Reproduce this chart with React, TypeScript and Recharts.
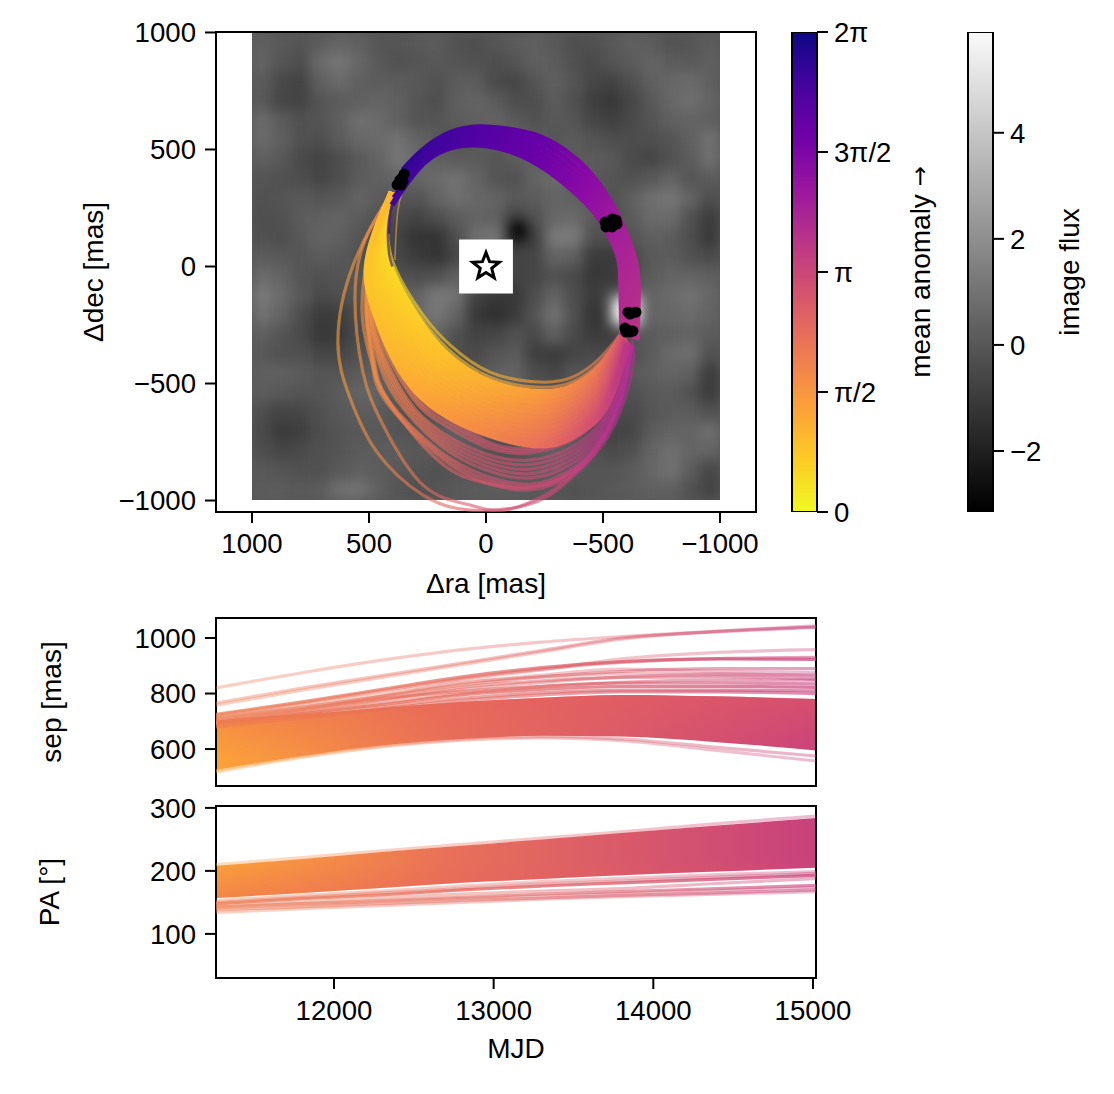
import React from 'react';
import {
  Area,
  Bar,
  ComposedChart,
  Line,
  ReferenceArea,
  Scatter,
  ScatterChart,
  XAxis,
  YAxis,
} from 'recharts';

const FONT = '"Liberation Sans", Arial, sans-serif';
const PI = Math.PI;

// orbit panel, [ra, dec] in mas
const denseOrbits: number[][][] = [
  [[402, 318], [419, 177], [393, 6], [269, -207], [154, -335], [-17, -451], [-231, -494], [-372, -472], [-487, -391], [-581, -280]],
  [[402, 318], [422, 177], [402, 5], [285, -208], [165, -351], [-17, -473], [-233, -516], [-374, -491], [-489, -407], [-583, -284]],
  [[402, 318], [426, 177], [412, 4], [301, -209], [177, -367], [-17, -494], [-236, -537], [-377, -510], [-492, -423], [-585, -289]],
  [[402, 318], [429, 177], [421, 3], [316, -210], [188, -383], [-17, -516], [-238, -559], [-379, -528], [-494, -439], [-587, -293]],
  [[402, 318], [433, 177], [430, 2], [332, -211], [199, -399], [-17, -537], [-241, -580], [-382, -547], [-497, -455], [-589, -298]],
  [[402, 318], [436, 177], [439, 1], [348, -212], [210, -415], [-17, -559], [-243, -602], [-384, -566], [-499, -471], [-591, -302]],
  [[402, 318], [440, 177], [449, 0], [364, -213], [222, -431], [-17, -580], [-245, -623], [-386, -585], [-501, -487], [-593, -306]],
  [[402, 318], [443, 177], [458, -1], [379, -214], [233, -448], [-17, -602], [-248, -645], [-389, -604], [-504, -504], [-596, -311]],
  [[402, 318], [447, 177], [467, -2], [395, -215], [244, -464], [-17, -623], [-250, -666], [-391, -622], [-506, -520], [-598, -315]],
  [[402, 318], [450, 177], [477, -3], [411, -216], [256, -480], [-17, -645], [-253, -688], [-394, -641], [-509, -536], [-600, -320]],
  [[402, 318], [453, 177], [486, -4], [427, -217], [267, -496], [-17, -666], [-255, -709], [-396, -660], [-511, -552], [-602, -324]],
  [[402, 318], [457, 177], [495, -5], [442, -218], [278, -512], [-17, -688], [-257, -731], [-398, -679], [-513, -568], [-604, -328]],
  [[402, 318], [459, 177], [502, -5], [454, -219], [287, -524], [-17, -704], [-259, -747], [-400, -693], [-515, -580], [-605, -332]],
  [[402, 318], [462, 177], [509, -6], [466, -220], [295, -536], [-17, -720], [-261, -763], [-402, -707], [-517, -592], [-607, -335]],
];
const denseTones = [0, 0.08, 0.16, 0.24, 0.32, 0.4, 0.48, 0.56, 0.64, 0.72, 0.8, 0.88, 0.94, 1];

const sparseOrbits: number[][][] = [
  [[402, 318], [568, 6], [633, -323], [581, -562], [466, -793], [269, -977], [68, -1041], [-175, -1019], [-329, -934], [-474, -793], [-573, -622], [-628, -421], [-624, -314]],
  [[402, 318], [517, 113], [560, -135], [526, -451], [440, -677], [269, -934], [68, -1019], [-81, -1041], [-286, -955], [-444, -806], [-560, -613], [-615, -400]],
  [[402, 318], [487, 113], [530, -186], [492, -400], [420, -571], [197, -835], [0, -925], [-158, -947], [-320, -905], [-470, -780], [-570, -600], [-618, -380]],
  [[402, 318], [480, 113], [515, -186], [487, -400], [432, -571], [197, -814], [0, -925], [-188, -955], [-359, -895], [-487, -763], [-581, -549], [-624, -340]],
  [[402, 318], [478, 113], [512, -186], [482, -400], [424, -571], [197, -802], [0, -910], [-188, -942], [-359, -882], [-487, -754], [-583, -545], [-623, -338]],
  [[402, 318], [476, 113], [510, -186], [478, -400], [417, -571], [197, -790], [0, -895], [-188, -930], [-359, -870], [-487, -745], [-585, -540], [-622, -335]],
  [[402, 318], [473, 113], [504, -186], [462, -400], [380, -571], [197, -763], [0, -870], [-188, -904], [-359, -848], [-487, -729], [-581, -528], [-620, -335]],
  [[402, 318], [474, 113], [500, -186], [452, -400], [367, -571], [197, -748], [0, -852], [-188, -885], [-359, -829], [-487, -714], [-581, -517], [-620, -335]],
  [[402, 318], [470, 113], [496, -186], [444, -400], [355, -571], [197, -733], [0, -835], [-188, -866], [-359, -810], [-487, -699], [-581, -506], [-620, -335]],
  [[402, 318], [469, 113], [491, -186], [436, -400], [344, -571], [197, -718], [0, -818], [-188, -846], [-359, -793], [-487, -684], [-581, -500], [-620, -335]],
  [[402, 318], [468, 113], [487, -186], [427, -400], [333, -571], [197, -703], [0, -801], [-188, -827], [-359, -776], [-487, -669], [-581, -494], [-620, -335]],
  [[402, 318], [466, 113], [478, -186], [410, -400], [308, -571], [197, -665], [0, -771], [-188, -797], [-359, -746], [-487, -643], [-573, -476], [-615, -330]],
  [[402, 318], [465, 113], [474, -186], [400, -400], [297, -571], [197, -648], [0, -758], [-188, -786], [-359, -735], [-487, -632], [-573, -470], [-613, -328]],
  [[402, 318], [464, 113], [470, -186], [389, -400], [286, -571], [197, -630], [0, -746], [-188, -776], [-359, -724], [-487, -622], [-573, -464], [-612, -325]],
];

const arcOrbits: number[][][] = [
  [[-645, -314], [-650, -79], [-628, 58], [-573, 199], [-500, 327], [-402, 442], [-261, 541], [-115, 583], [26, 596], [154, 571], [269, 498], [355, 412]],
  [[-632, -310], [-635, -79], [-614, 58], [-556, 199], [-480, 321], [-374, 436], [-232, 531], [-87, 570], [49, 579], [174, 548], [283, 470], [364, 382]],
  [[-619, -306], [-621, -79], [-601, 58], [-539, 199], [-461, 315], [-346, 430], [-203, 520], [-59, 557], [72, 562], [193, 525], [297, 442], [374, 352]],
  [[-607, -301], [-606, -79], [-587, 58], [-521, 199], [-441, 309], [-317, 424], [-173, 510], [-30, 545], [95, 544], [213, 501], [310, 413], [383, 323]],
  [[-594, -297], [-592, -79], [-574, 58], [-504, 199], [-422, 303], [-289, 418], [-144, 499], [-2, 532], [118, 527], [232, 478], [324, 385], [393, 293]],
  [[-581, -293], [-577, -79], [-560, 58], [-487, 199], [-402, 297], [-261, 412], [-115, 489], [26, 519], [141, 510], [252, 455], [338, 357], [402, 263]],
];
const tailOrbits: number[][][] = [
  [[402, 263], [418, 170], [415, 60], [400, 0]],
  [[393, 293], [408, 230], [416, 140]],
];
const tanStrand = [[209, 504], [325, 380], [376, 242], [389, 28]];

const epochBlobs: number[][] = [
  [380, 349], [363, 348], [359, 378], [350, 395], [368, 370], [355, 365],
  [-513, 169], [-509, 190], [-530, 177], [-547, 186], [-539, 203], [-556, 199], [-560, 182], [-539, 169],
  [-607, -195], [-624, -199], [-641, -195], [-615, -203],
  [-594, -263], [-607, -271], [-628, -276], [-598, -280], [-615, -280],
];

// image under the orbits
const heatRa = [958, 875, 792, 708, 625, 542, 458, 375, 292, 208, 125, 42, -42, -125, -208, -292, -375, -458, -542, -625, -708, -792, -875, -958];
const heatDec = heatRa.map((v) => v);
const fluxRows: number[][] = [
  [.2, .0, -.1, .1, .3, .2, -.1, -.1, .0, .1, -.2, -.3, -.1, .1, .2, .0, -.3, -.2, .0, .2, .1, -.2, -.1, .1],
  [.3, -.1, -.3, .5, .8, .4, .0, -.2, -.1, .0, -.1, -.2, -.3, -.1, .2, .1, -.2, -.4, -.1, .1, .3, .1, .0, .2],
  [.1, -.4, -.6, .2, .5, .2, .1, .1, .0, -.2, .1, .1, -.4, -.5, -.1, .2, -.1, -.5, -.6, -.2, .2, .4, .5, .2],
  [.0, -.5, -.6, -.1, .1, .2, .3, .2, -.1, -.3, .2, .3, .1, -.3, -.3, .1, -.2, -.7, -.9, -.5, .0, .4, .6, .3],
  [.5, .1, -.2, -.1, .2, .6, .5, .2, -.1, -.1, .1, .2, .3, .0, -.2, .0, -.1, -.5, -.7, -.4, -.1, .2, .3, .2],
  [.5, .2, -.2, -.3, .1, .4, .5, .7, .3, .0, -.2, -.1, .2, .3, .1, -.1, .1, -.1, -.3, -.3, -.3, -.1, .2, .7],
  [.2, .0, -.4, -.6, -.3, .0, .3, .8, .5, .2, .1, .1, -.1, .1, .2, .1, .0, .1, .0, -.4, -.5, -.2, .1, .6],
  [-.1, -.2, -.3, -.5, -.3, .1, .2, .3, .3, .5, .7, .3, -.1, -.2, .3, .5, .2, .0, -.1, -.2, .0, .3, -.1, .1],
  [-.2, -.1, .0, -.1, .0, .3, .1, -.1, -.1, .3, .6, .4, .3, .0, .1, .3, .2, .1, -.2, .2, .6, .8, .3, -.3],
  [-.3, -.2, .1, .2, .3, .1, -.2, -.4, -.6, -.3, .1, .3, .2, -.6, -.2, .4, .5, .1, -.2, .1, .5, .5, -.2, -.8],
  [-.2, -.3, .0, .3, .2, -.1, -.3, -.6, -1.0, -1.0, -.3, .6, .8, -1.2, -.7, .9, .9, -.2, -.2, -.1, .2, .1, -.3, -.9],
  [.1, .0, -.1, .1, .0, -.2, -.3, -.5, -.8, -1.0, -.5, .3, .4, -.6, -.5, .3, .2, -.8, -.8, -.4, .0, .1, -.2, -.4],
  [.5, .3, -.1, -.2, -.1, -.1, .0, -.2, -.3, -.2, .2, .0, -.2, -.6, -.5, -.2, -.4, -.9, -.8, -.3, .1, .3, .3, .2],
  [.9, .5, .0, -.4, -.3, -.1, .2, .2, .3, .9, .7, -.6, -.9, -.9, -.3, .3, -.3, -.8, -.4, .1, .3, .5, .7, .4],
  [.7, .3, -.3, -.8, -.7, -.3, .1, .3, .5, .8, .3, -.9, -1.1, -.8, -.1, .7, -.2, -1.0, -.6, .3, .3, .4, .5, .3],
  [.2, -.1, -.4, -.9, -.8, -.4, .0, .2, .3, .3, -.2, -.6, -.5, -.2, -.4, .2, -.4, -.8, -.7, -.1, .1, .2, .3, .1],
  [.0, -.2, -.2, -.5, -.5, -.2, .1, .2, .0, -.1, -.3, -.4, -.1, .1, -.7, -.8, -.5, -.4, -.5, -.2, .1, .5, .6, -.2],
  [.2, .2, .1, -.1, -.1, .1, .2, .1, -.1, -.2, -.2, -.1, .2, .3, -.3, -.5, -.1, -.1, -.2, .0, .2, .3, .2, -.8],
  [.1, .0, -.1, -.1, .1, .3, .3, .0, -.3, -.1, .0, .1, .2, .2, .0, -.1, .1, .0, -.2, -.2, .0, .1, -.2, -.8],
  [-.3, -.6, -.5, -.2, .0, .1, .1, -.1, -.3, -.2, .1, .2, .1, -.1, -.1, .1, .2, -.1, -.4, -.4, -.1, .1, .1, -.2],
  [-.4, -.8, -.7, -.3, -.1, .0, .0, -.1, -.1, .1, .2, .1, -.2, -.3, -.1, .1, .1, -.3, -.6, -.5, .1, .3, .3, .6],
  [-.3, -.5, -.4, -.2, -.1, .1, .1, .1, .0, .0, .1, .0, -.2, -.2, .0, .2, .1, -.2, -.4, -.2, .3, .6, .3, .3],
  [.0, -.1, -.2, -.2, .0, .2, .1, .0, -.1, -.2, -.1, -.1, .0, .0, .1, .2, .0, -.1, -.1, .1, .4, .7, .1, -.5],
  [.1, .1, .0, .1, .6, .7, .2, -.1, -.2, -.1, .0, .1, .1, .1, .0, -.1, -.2, -.1, .0, .1, .2, .2, -.2, -.6],
];
const brightSpots = [{ ra: -600, dec: -190, flux: 5.9 }];
const darkSpots = [{ ra: -137, dec: 156, flux: -3.1 }];

// time panels
const mjd = [11261, 11800, 12300, 12800, 13300, 13800, 14400, 15019];
const sepLow = [525, 575, 613, 636, 648, 645, 625, 595];
const sepHigh = [704, 725, 748, 770, 785, 795, 790, 780];
const sepLines: number[][] = [
  [820, 875, 920, 958, 985, 1005, 1025, 1040],
  [766, 820, 865, 910, 955, 1000, 1022, 1038],
  [758, 812, 858, 904, 950, 996, 1024, 1044],
  [725, 770, 815, 860, 893, 915, 925, 923],
  [722, 766, 810, 854, 888, 912, 926, 930],
  [712, 760, 800, 850, 885, 925, 948, 958],
  [715, 752, 790, 836, 866, 888, 880, 875],
  [712, 750, 790, 830, 860, 880, 890, 890],
  [700, 742, 790, 840, 860, 872, 872, 862],
  [700, 738, 778, 822, 846, 858, 860, 852],
  [695, 735, 775, 815, 840, 860, 868, 866],
  [705, 745, 782, 808, 826, 838, 838, 835],
  [690, 728, 765, 800, 825, 840, 848, 848],
  [695, 728, 760, 795, 815, 826, 826, 822],
  [690, 722, 752, 783, 803, 812, 812, 810],
  [680, 712, 745, 775, 795, 806, 806, 800],
  [517, 570, 608, 632, 640, 630, 595, 557],
  [523, 575, 612, 636, 645, 637, 606, 575],
];
const sepAlpha = [0.35, 0.4, 0.35, 0.7, 0.5, 0.35, 0.35, 0.5, 0.35, 0.5, 0.45, 0.6, 0.5, 0.7, 0.6, 0.6, 0.35, 0.4];
const sepBandLines = [16, 17];
const paLow = [157, 165, 173, 181, 187, 193, 199, 205];
const paHigh = [208, 219, 230, 240, 250, 260, 272, 284];
const paLines: number[][] = [
  [210, 221, 232, 242, 252, 262, 275, 287],
  [153, 161, 168, 176, 183, 188, 194, 199],
  [150, 158, 165, 172, 179, 184, 190, 196],
  [148, 156, 162, 170, 176, 181, 187, 193],
  [145, 151, 157, 163, 168, 172, 180, 188],
  [143, 148, 153, 158, 163, 167, 172, 177],
  [141, 146, 151, 156, 160, 164, 169, 174],
  [138, 143, 148, 153, 157, 161, 165, 170],
  [134, 140, 145, 150, 155, 159, 163, 167],
];
const paAlpha = [0.35, 0.35, 0.45, 0.75, 0.4, 0.6, 0.35, 0.5, 0.35];
const paBandLines = [0];

const xyTicks = [1000, 500, 0, -500, -1000];
const sepTicks = [600, 800, 1000];
const paTicks = [100, 200, 300];
const mjdTicks = [12000, 13000, 14000, 15000];
const anomalyTicks = [0, PI / 2, PI, (3 * PI) / 2, 2 * PI];
const anomalyLabels = ['0', 'π/2', 'π', '3π/2', '2π'];
const fluxTicks = [-2, 0, 2, 4];

const plasmaColors = ['#0d0887', '#46039f', '#7201a8', '#9c179e', '#bd3786', '#d8576b', '#ed7953', '#fb9f3a', '#fdca26', '#f0f921'];
const denseInner = ['#f8ea20', '#fdd621', '#fdb72c', '#fca136', '#f2844a', '#d8576b'];
const denseOuter = ['#fcc428', '#fca636', '#f38649', '#e76e5b', '#d04e73', '#b83289'];
const denseStops = [0, 0.19, 0.45, 0.67, 0.87, 1];

const W = 1114;
const H = 1094;
const tickStyle = { fontSize: 27.6, fill: '#000', fontFamily: FONT };
const tickLine = { stroke: '#000', strokeWidth: 2 };
const labelStyle = { fontSize: 28, fill: '#000', fontFamily: FONT };
const minus = (v: number) => String(v).replace('-', '\u2212');

const toPoints = (pairs: number[][]) => pairs.map(([ra, dec]) => ({ ra, dec }));
const fluxGray = (flux: number) => {
  const g = Math.max(0, Math.min(255, Math.round((255 * (flux * 1.3 + 3.15)) / 9.05)));
  return `rgb(${g},${g},${g})`;
};
const mixHex = (a: string, b: string, t: number) => {
  const c = (s: string, i: number) => parseInt(s.slice(i, i + 2), 16);
  const m = [1, 3, 5].map((i) => Math.round(c(a, i) * (1 - t) + c(b, i) * t));
  return `rgb(${m[0]},${m[1]},${m[2]})`;
};

const heatCells = fluxRows.flatMap((row, j) =>
  row.map((flux, i) => ({ ra: heatRa[i], dec: heatDec[j], flux })),
);

const squareCell = (size: number) => (props: any) => (
  <rect x={props.cx - size / 2} y={props.cy - size / 2} width={size} height={size} fill={fluxGray(props.payload.flux)} />
);

function HeatLayer() {
  return (
    <div style={{ position: 'absolute', left: 252, top: 33, width: 468, height: 467, overflow: 'hidden', background: '#585858' }}>
      <div style={{ filter: 'blur(6.5px)' }}>
        <ScatterChart width={468} height={467} margin={{ top: 0, right: 0, bottom: 0, left: 0 }}>
          <XAxis type="number" dataKey="ra" domain={[-1000, 1000]} reversed hide />
          <YAxis type="number" dataKey="dec" domain={[-1000, 1000]} hide />
          <Scatter data={heatCells} shape={squareCell(20)} isAnimationActive={false} />
          <Scatter data={brightSpots} shape={squareCell(28)} isAnimationActive={false} />
          <Scatter data={darkSpots} shape={squareCell(17)} isAnimationActive={false} />
        </ScatterChart>
      </div>
    </div>
  );
}

function StarMark(props: any) {
  const { cx, cy } = props;
  const pts = Array.from({ length: 10 }, (_, i) => {
    const r = i % 2 === 0 ? 14 : 6;
    const a = -PI / 2 + (i * PI) / 5;
    return `${cx + r * Math.cos(a)},${cy + r * Math.sin(a)}`;
  }).join(' ');
  return <polygon points={pts} fill="#fff" stroke="#000" strokeWidth={3} strokeLinejoin="miter" />;
}

function EpochDot(props: any) {
  return <circle cx={props.cx} cy={props.cy} r={5.5} fill="#000" />;
}

function OrbitPanel() {
  return (
    <div style={{ position: 'absolute', left: 0, top: 0 }}>
      <ComposedChart width={W} height={H} margin={{ top: 32, right: 358, bottom: 492, left: 0 }}>
        <defs>
          {denseTones.map((tone, k) => (
            <linearGradient key={k} id={`dense${k}`} gradientUnits="userSpaceOnUse" x1={370} y1={0} x2={630} y2={0}>
              {denseStops.map((s, i) => (
                <stop key={i} offset={s} stopColor={mixHex(denseInner[i], denseOuter[i], tone)} />
              ))}
            </linearGradient>
          ))}
          <linearGradient id="sparse" gradientUnits="userSpaceOnUse" x1={338} y1={0} x2={620} y2={0}>
            <stop offset={0} stopColor="#f9a03c" />
            <stop offset={0.22} stopColor="#ee7d50" />
            <stop offset={0.47} stopColor="#d8576b" />
            <stop offset={0.79} stopColor="#cc4778" />
            <stop offset={1} stopColor="#b03090" />
          </linearGradient>
          <linearGradient id="arc" gradientUnits="userSpaceOnUse" x1={630} y1={340} x2={395} y2={170}>
            <stop offset={0} stopColor="#b83289" />
            <stop offset={0.23} stopColor="#a62098" />
            <stop offset={0.435} stopColor="#8b0aa5" />
            <stop offset={0.635} stopColor="#6a00a8" />
            <stop offset={0.83} stopColor="#5302a3" />
            <stop offset={0.94} stopColor="#41049d" />
            <stop offset={1} stopColor="#2a0593" />
          </linearGradient>
        </defs>
        <XAxis
          type="number"
          dataKey="ra"
          domain={[-1154, 1154]}
          ticks={xyTicks}
          reversed
          allowDataOverflow
          interval={0}
          height={90}
          axisLine={false}
          tick={tickStyle}
          tickLine={tickLine}
          tickSize={11}
          tickMargin={10}
          tickFormatter={minus}
          label={{ value: 'Δra [mas]', position: 'insideBottom', offset: 9, style: labelStyle }}
        />
        <YAxis
          type="number"
          dataKey="dec"
          domain={[-1049, 1002]}
          ticks={xyTicks}
          allowDataOverflow
          interval={0}
          width={216}
          axisLine={false}
          tick={tickStyle}
          tickLine={tickLine}
          tickSize={11}
          tickMargin={9}
          tickFormatter={minus}
          label={{ value: 'Δdec [mas]', angle: -90, position: 'center', dx: -15, style: labelStyle }}
        />
        <ReferenceArea x1={-115} x2={115} y1={-115} y2={115} fill="#fff" fillOpacity={1} stroke="none" />
        {sparseOrbits.map((o, k) => (
          <Line key={`s${k}`} data={toPoints(o)} dataKey="dec" type="natural" stroke="url(#sparse)" strokeWidth={3.2} strokeOpacity={0.6} dot={false} activeDot={false} isAnimationActive={false} />
        ))}
        {denseOrbits.map((o, k) => (
          <Line key={`d${k}`} data={toPoints(o)} dataKey="dec" type="natural" stroke={`url(#dense${k})`} strokeWidth={k < 2 ? 3 : 6.5} strokeOpacity={k < 2 ? 0.6 : 1} dot={false} activeDot={false} isAnimationActive={false} />
        ))}
        {tailOrbits.map((o, k) => (
          <Line key={`t${k}`} data={toPoints(o)} dataKey="dec" type="natural" stroke="#2a0593" strokeWidth={2.5} strokeOpacity={0.6} dot={false} activeDot={false} isAnimationActive={false} />
        ))}
        <Line data={toPoints(tanStrand)} dataKey="dec" type="natural" stroke="#d89a5a" strokeWidth={1.5} strokeOpacity={0.7} dot={false} activeDot={false} isAnimationActive={false} />
        {arcOrbits.map((o, k) => (
          <Line key={`a${k}`} data={toPoints(o)} dataKey="dec" type="natural" stroke="url(#arc)" strokeWidth={5.5} strokeOpacity={1} dot={false} activeDot={false} isAnimationActive={false} />
        ))}
        <Scatter data={toPoints(epochBlobs)} shape={EpochDot} isAnimationActive={false} />
        <Scatter data={[{ ra: 0, dec: 0 }]} shape={StarMark} isAnimationActive={false} />
        <ReferenceArea x1={-1154} x2={1154} y1={-1049} y2={1002} fill="none" stroke="#000" strokeWidth={2} />
      </ComposedChart>
    </div>
  );
}

function AnomalyLabel(props: any) {
  const { x, y, width, height } = props.viewBox;
  const cx = x + width / 2 + 43;
  const cy = y + height / 2;
  return (
    <text
      x={cx}
      y={cy}
      transform={`rotate(-90 ${cx} ${cy})`}
      textAnchor="middle"
      dominantBaseline="central"
      style={labelStyle}
    >
      mean anomaly <tspan fontFamily="DejaVu Sans" fontSize={24}>→</tspan>
    </text>
  );
}

function ColorBar(props: {
  id: string;
  left: number;
  domain: number[];
  ticks: number[];
  colors: string[];
  format: (v: number) => string;
  label: any;
}) {
  const { id, left, domain, ticks, colors, format, label } = props;
  return (
    <div style={{ position: 'absolute', left: 0, top: 0 }}>
      <ComposedChart
        width={W}
        height={H}
        data={[{ name: id, value: domain }]}
        barCategoryGap={0}
        margin={{ top: 32, right: W - left - 25 - 120, bottom: 582, left }}
      >
        <defs>
          <linearGradient id={id} x1={0} y1={0} x2={0} y2={1}>
            {colors.map((c, i) => (
              <stop key={i} offset={i / (colors.length - 1)} stopColor={c} />
            ))}
          </linearGradient>
        </defs>
        <XAxis dataKey="name" hide />
        <YAxis
          orientation="right"
          type="number"
          domain={domain}
          ticks={ticks}
          allowDataOverflow
          interval={0}
          width={120}
          axisLine={false}
          tick={tickStyle}
          tickLine={tickLine}
          tickSize={11}
          tickMargin={6}
          tickFormatter={format}
          label={label}
        />
        <Bar dataKey="value" fill={`url(#${id})`} stroke="#000" strokeWidth={2} isAnimationActive={false} />
      </ComposedChart>
    </div>
  );
}

function TimePanel(props: {
  id: string;
  top: number;
  bottom: number;
  low: number[];
  high: number[];
  lines: number[][];
  alpha: number[];
  bandLines: number[];
  domain: number[];
  ticks: number[];
  label: string;
  labelDx: number;
  tint: number[];
  showX?: boolean;
}) {
  const { id, top, bottom, low, high, lines, alpha, bandLines, domain, ticks, label, labelDx, tint, showX } = props;
  const rows = mjd.map((m, i) => {
    const row: Record<string, any> = { mjd: m, band: [low[i], high[i]] };
    lines.forEach((l, k) => {
      row[`l${k}`] = l[i];
    });
    return row;
  });
  return (
    <div style={{ position: 'absolute', left: 0, top: 0 }}>
      <ComposedChart
        width={W}
        height={H}
        data={rows}
        margin={{ top, right: 298, bottom: showX ? 0 : H - bottom, left: 0 }}
      >
        <defs>
          <linearGradient id={id} gradientUnits="userSpaceOnUse" x1={216} y1={0} x2={816} y2={0}>
            <stop offset={0} stopColor="#fba238" />
            <stop offset={0.2} stopColor="#f38a48" />
            <stop offset={0.38} stopColor="#e97158" />
            <stop offset={0.7} stopColor="#d8586b" />
            <stop offset={1} stopColor="#c8417d" />
          </linearGradient>
          <linearGradient id={`${id}Warm`} gradientUnits="userSpaceOnUse" x1={216} y1={0} x2={816} y2={0}>
            <stop offset={0} stopColor="#ee7c50" />
            <stop offset={0.38} stopColor="#e4695c" />
            <stop offset={0.7} stopColor="#d8586b" />
            <stop offset={1} stopColor="#c8417d" />
          </linearGradient>
          <linearGradient id={`${id}Tint`} gradientUnits="userSpaceOnUse" x1={0} y1={tint[0]} x2={0} y2={tint[1]}>
            <stop offset={0} stopColor="#e8605c" stopOpacity={0.5} />
            <stop offset={1} stopColor="#e8605c" stopOpacity={0} />
          </linearGradient>
        </defs>
        <XAxis
          type="number"
          dataKey="mjd"
          domain={[11261, 15019]}
          ticks={mjdTicks}
          allowDataOverflow
          hide={!showX}
          interval={0}
          height={H - bottom}
          axisLine={false}
          tick={tickStyle}
          tickLine={tickLine}
          tickSize={11}
          tickMargin={11}
          label={showX ? { value: 'MJD', position: 'insideBottom', offset: 36, style: labelStyle } : undefined}
        />
        <YAxis
          type="number"
          domain={domain}
          ticks={ticks}
          allowDataOverflow
          interval={0}
          width={216}
          axisLine={false}
          tick={tickStyle}
          tickLine={tickLine}
          tickSize={11}
          tickMargin={9}
          label={{ value: label, angle: -90, position: 'center', dx: labelDx, style: labelStyle }}
        />
        <Area dataKey="band" type="monotone" fill={`url(#${id})`} fillOpacity={1} stroke="none" dot={false} activeDot={false} isAnimationActive={false} />
        <Area dataKey="band" type="monotone" fill={`url(#${id}Tint)`} fillOpacity={1} stroke="none" dot={false} activeDot={false} isAnimationActive={false} />
        {lines.map((_, k) => (
          <Line
            key={k}
            dataKey={`l${k}`}
            type="monotone"
            stroke={bandLines.includes(k) ? `url(#${id})` : `url(#${id}Warm)`}
            strokeWidth={3.2}
            strokeOpacity={alpha[k]}
            dot={false}
            activeDot={false}
            isAnimationActive={false}
          />
        ))}
        <ReferenceArea x1={11261} x2={15019} y1={domain[0]} y2={domain[1]} fill="none" stroke="#000" strokeWidth={2} />
      </ComposedChart>
    </div>
  );
}

export default function App() {
  return (
    <div style={{ position: 'absolute', left: 0, top: 0, width: W, height: H, overflow: 'hidden', background: '#fff' }}>
      <HeatLayer />
      <OrbitPanel />
      <ColorBar
        id="plasmaBar"
        left={792}
        domain={[0, 2 * PI]}
        ticks={anomalyTicks}
        colors={plasmaColors}
        format={(v) => anomalyLabels[anomalyTicks.indexOf(v)]}
        label={{ value: 'mean anomaly', content: AnomalyLabel }}
      />
      <ColorBar
        id="grayBar"
        left={968}
        domain={[-3.15, 5.9]}
        ticks={fluxTicks}
        colors={['#fafafa', '#000000']}
        format={minus}
        label={{ value: 'image flux', angle: -90, position: 'center', dx: 16, style: labelStyle }}
      />
      <TimePanel id="sepFill" top={618} bottom={786} low={sepLow} high={sepHigh} lines={sepLines} alpha={sepAlpha} bandLines={sepBandLines} domain={[467, 1072]} ticks={sepTicks} label="sep [mas]" labelDx={-57} tint={[690, 760]} />
      <TimePanel id="paFill" top={806} bottom={978} low={paLow} high={paHigh} lines={paLines} alpha={paAlpha} bandLines={paBandLines} domain={[30, 303]} ticks={paTicks} label="PA [°]" labelDx={-59} tint={[905, 860]} showX />
    </div>
  );
}
